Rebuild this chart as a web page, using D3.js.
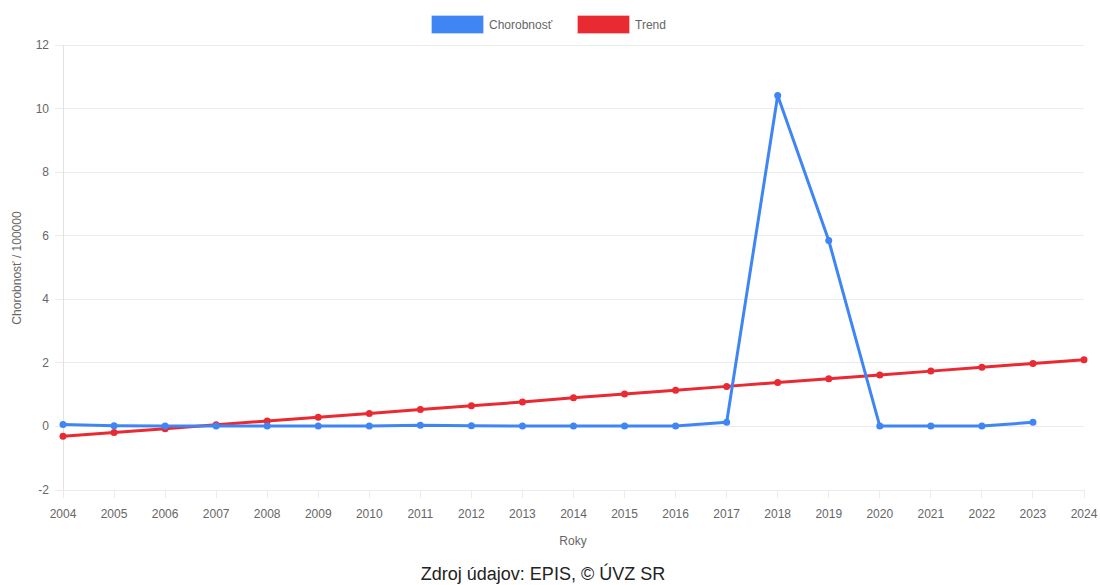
<!DOCTYPE html>
<html><head><meta charset="utf-8">
<script src="https://cdn.jsdelivr.net/npm/d3@7"></script>
<style>body{margin:0;background:#fff;}svg{display:block;font-family:"Liberation Sans",Arial,sans-serif;}</style>
</head><body><svg id="c" width="1100" height="585"></svg>
<script>
const years = [2004,2005,2006,2007,2008,2009,2010,2011,2012,2013,2014,2015,2016,2017,2018,2019,2020,2021,2022,2023,2024];
const chorobnost = [0.06,0.02,0.01,0.01,0.01,0.01,0.01,0.04,0.02,0.01,0.01,0.01,0.01,0.13,10.41,5.85,0.01,0.01,0.01,0.13];
const trend = [-0.31,-0.19,-0.07,0.05,0.17,0.29,0.41,0.53,0.65,0.77,0.90,1.02,1.14,1.26,1.38,1.50,1.62,1.74,1.86,1.98,2.10];
const yTicks = [-2,0,2,4,6,8,10,12];
const seriesNames = ["Chorobnosť","Trend"];
const colors = ["#3f86f4","#ea2a32"];

const svg = d3.select("#c");
const x = d3.scaleLinear().domain([2004,2024]).range([63,1084]);
const y = d3.scaleLinear().domain([-2,12]).range([490,45]);

// grid
svg.append("g").selectAll("line").data(yTicks).join("line")
  .attr("x1",55).attr("x2",1084).attr("y1",d=>y(d)).attr("y2",d=>y(d))
  .attr("stroke","#ebebeb").attr("stroke-width",1).attr("shape-rendering","crispEdges");
svg.append("line").attr("x1",63).attr("x2",63).attr("y1",45).attr("y2",498)
  .attr("stroke","#e2e2e2").attr("shape-rendering","crispEdges");
// x tick marks
svg.append("g").selectAll("line").data(years).join("line")
  .attr("x1",d=>x(d)).attr("x2",d=>x(d)).attr("y1",490).attr("y2",498)
  .attr("stroke","#ebebeb").attr("shape-rendering","crispEdges");

// y labels
svg.append("g").selectAll("text").data(yTicks).join("text")
  .attr("x",49).attr("y",d=>y(d)+4).attr("text-anchor","end")
  .attr("font-size",12).attr("fill","#666").text(d=>d);
// x labels
svg.append("g").selectAll("text").data(years).join("text")
  .attr("x",d=>x(d)).attr("y",518).attr("text-anchor","middle")
  .attr("font-size",12).attr("fill","#666").text(d=>d);

// axis titles
svg.append("text").attr("transform","translate(21,268) rotate(-90)").attr("text-anchor","middle")
  .attr("font-size",12).attr("fill","#666").text("Chorobnosť / 100000");
svg.append("text").attr("x",573).attr("y",545).attr("text-anchor","middle")
  .attr("font-size",12).attr("fill","#666").text("Roky");
svg.append("text").attr("x",543).attr("y",580).attr("text-anchor","middle")
  .attr("font-size",18).attr("fill","#222").text("Zdroj údajov: EPIS, © ÚVZ SR");

const line = d3.line().x((d,i)=>x(years[i])).y(d=>y(d));
[[trend,1],[chorobnost,0]].forEach(([data,ci])=>{
  svg.append("path").datum(data).attr("d",line).attr("fill","none")
    .attr("stroke",colors[ci]).attr("stroke-width",3).attr("stroke-linejoin","round");
  svg.append("g").selectAll("circle").data(data).join("circle")
    .attr("cx",(d,i)=>x(years[i])).attr("cy",d=>y(d)).attr("r",3.5).attr("fill",colors[ci]);
});

// legend
const leg = svg.append("g");
const legX = [432,578];
seriesNames.forEach((n,i)=>{
  leg.append("rect").attr("x",legX[i]).attr("y",16).attr("width",51).attr("height",17)
    .attr("fill",colors[i]).attr("stroke",colors[i]).attr("stroke-opacity",0.7);
  leg.append("text").attr("x",legX[i]+57).attr("y",29).attr("font-size",12).attr("fill","#666").text(n);
});
</script></body></html>
